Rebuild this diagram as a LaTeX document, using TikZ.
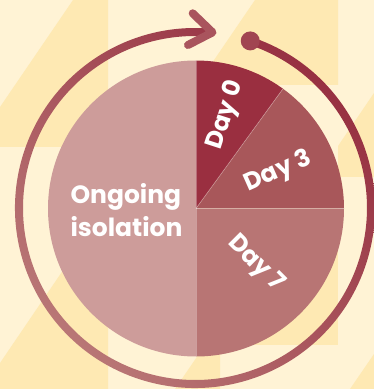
\documentclass[tikz,border=0pt]{standalone}
\usepackage{fontspec}
\setmainfont{Poppins}
\definecolor{bglight}{HTML}{FFF3D5}
\definecolor{bgdark}{HTML}{FEE9B3}
\definecolor{ongo}{HTML}{CD9C9A}
\definecolor{dzero}{HTML}{9A2F40}
\definecolor{dthree}{HTML}{A8575A}
\definecolor{dseven}{HTML}{B87574}
\definecolor{ringlight}{HTML}{BB7B79}
\definecolor{ringdark}{HTML}{962E40}
\colorlet{chevc}{ringdark!50!ringlight}
\colorlet{dotc}{ringdark!70!ringlight}
\begin{document}
\begin{tikzpicture}[x=1pt,y=1pt,
  bgshape/.style={fill=bgdark},
  seam/.style={draw=white,draw opacity=0.3,line width=0.7pt},
  lbl/.style={text=white,inner sep=0pt,font=\bfseries\fontsize{24.5}{27}\selectfont},
  biglbl/.style={text=white,inner sep=0pt,align=left,font=\bfseries\fontsize{25}{32.7}\selectfont},
  chevron/.style={draw=chevc,line width=8pt,line cap=round,line join=round}]
\useasboundingbox (0,0) rectangle (374,389);
\fill[bglight] (0,0) rectangle (374,389);
% background pattern
\fill[bgshape] (73,389) -- (108,389) -- (108,242) -- (0,242) -- (0,282) -- cycle;
\fill[bgshape] (255,389) -- (338,389) -- (338,304) -- (197,304) -- cycle;
\fill[bgshape] (374,296) -- (374,212) -- (338,212) -- (338,243) -- cycle;
\fill[bgshape] (200,44) rectangle (338,212);
\fill[bgshape] (0,0) -- (0,26) -- (108,185) -- (108,0) -- cycle;
\fill[bgshape] (175,0) -- (220,66) -- (220,0) -- cycle;
\fill[bgshape] (350,0) -- (374,35) -- (374,0) -- cycle;
% centres
\coordinate (P) at (196,180.5);
\coordinate (C) at (195,181);
% pie
\fill[ongo] (P) -- ++(90:148pt) arc[start angle=90,end angle=270,radius=148pt] -- cycle;
\fill[dzero] (P) -- ++(54:148pt) arc[start angle=54,end angle=90,radius=148pt] -- cycle;
\fill[dthree] (P) -- ++(0:148pt) arc[start angle=0,end angle=54,radius=148pt] -- cycle;
\fill[dseven] (P) -- ++(-90:148pt) arc[start angle=-90,end angle=0,radius=148pt] -- cycle;
\path[seam] (P) -- ++(90:148pt);
\path[seam] (P) -- ++(-90:148pt);
\path[seam] (P) -- ++(54:148pt);
\path[seam] (P) -- ++(0:148pt);
% ring
\shade[bottom color=ringlight,top color=ringdark,shading angle=-45]
  ([shift={(71.7:180pt)}]C) arc[start angle=71.7,end angle=-274.7,radius=180pt]
  -- ([shift={(-274.7:172pt)}]C) arc[start angle=-274.7,end angle=71.7,radius=172pt] -- cycle;
\coordinate (tip) at ([shift={(84.3:176.5pt)}]C);
\coordinate (armA) at (192.7,375.7);
\coordinate (armB) at (188,344);
\draw[chevron] (armA) -- (tip) -- (armB);
\node[circle,fill=dotc,minimum size=19pt,inner sep=0pt] (dot) at ([shift={(71.7:176pt)}]C) {};
% labels
\node[lbl,rotate=72] (d0) at ([shift={(72:98pt)}]P) {Day 0};
\node[lbl,rotate=24] (d3) at ([shift={(24:90pt)}]P) {Day 3};
\node[lbl,rotate=-45] (d7) at ([shift={(-43:81pt)}]P) {Day 7};
\node[biglbl] (ongoing) at (126.5,179) {Ongoing\\isolation};
\end{tikzpicture}
\end{document}
